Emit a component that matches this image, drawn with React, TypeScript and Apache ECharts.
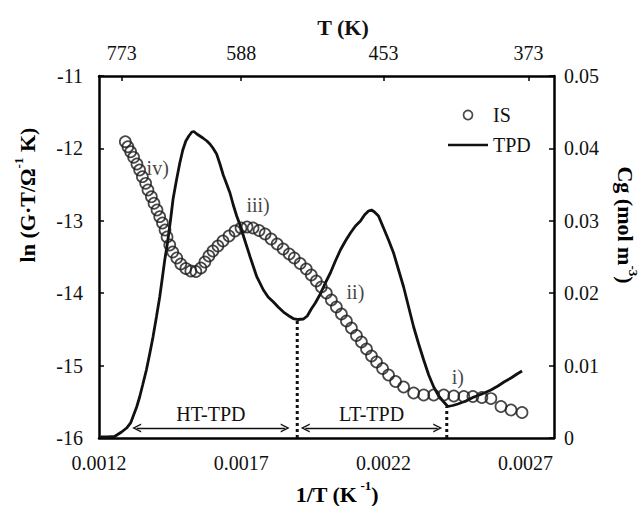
import React, { useEffect, useRef } from 'react';
import * as echarts from 'echarts';

const FONT = "'Liberation Serif', 'Times New Roman', Times, serif";

// Axis ranges
const X_MIN = 0.0012;
const X_MAX = 0.0028;
const LN_MIN = -16;
const LN_MAX = -11;
const CG_MIN = 0;
const CG_MAX = 0.05;

// Tick labels
const BOTTOM_TICKS = [0.0012, 0.0017, 0.0022, 0.0027];
const TOP_TICK_POS = [0.00128, 0.0017, 0.0022, 0.00271];
const TOP_TICK_LABELS = ['773', '588', '453', '373'];

// IS (impedance spectroscopy) : x = 1/T (K^-1), y = ln(G·T)
const IS_X = [
  0.0012925, 0.0013016, 0.0013112, 0.0013218, 0.0013334, 0.0013429, 0.0013525, 0.0013641, 0.0013722, 0.0013842,
  0.0013934, 0.001404, 0.0014135, 0.0014231, 0.0014322, 0.0014393, 0.0014488, 0.0014594, 0.0014735, 0.0014876,
  0.0015053, 0.0015229, 0.0015406, 0.0015582, 0.0015724, 0.0015865, 0.0016006, 0.0016182, 0.0016359, 0.0016571,
  0.0016782, 0.0016994, 0.0017206, 0.0017418, 0.0017629, 0.0017841, 0.0018053, 0.0018265, 0.0018476, 0.0018688,
  0.0018865, 0.0019076, 0.0019288, 0.0019465, 0.0019641, 0.0019818, 0.0019994, 0.0020171, 0.0020347, 0.0020524,
  0.00207, 0.0020876, 0.0021053, 0.0021229, 0.0021406, 0.0021582, 0.0021759, 0.0021971, 0.0022182, 0.0022429,
  0.0022712, 0.0023065, 0.0023418, 0.0023771, 0.0024124, 0.0024476, 0.0024829, 0.0025147, 0.0025465, 0.0025782,
  0.0026135, 0.0026488, 0.0026876,
];
const IS_LN = [
  -11.907, -11.977, -12.046, -12.123, -12.215, -12.298, -12.391, -12.482, -12.575, -12.667,
  -12.758, -12.851, -12.943, -13.03, -13.127, -13.224, -13.334, -13.431, -13.514, -13.597,
  -13.659, -13.693, -13.7, -13.652, -13.569, -13.486, -13.417, -13.348, -13.279, -13.21,
  -13.141, -13.099, -13.086, -13.099, -13.134, -13.182, -13.251, -13.32, -13.39, -13.459,
  -13.514, -13.59, -13.666, -13.749, -13.831, -13.914, -13.997, -14.094, -14.191, -14.287,
  -14.384, -14.481, -14.584, -14.674, -14.771, -14.867, -14.95, -15.04, -15.13, -15.22,
  -15.296, -15.378, -15.406, -15.406, -15.406, -15.42, -15.427, -15.427, -15.441, -15.455,
  -15.565, -15.613, -15.648,
];

// TPD : x = 1/T (K^-1), y = Cg (mol m^-3)
const TPD_X = [
  0.0012053, 0.00123, 0.0012547, 0.0012794, 0.0012971, 0.0013112, 0.0013218, 0.0013324, 0.0013429, 0.0013535,
  0.0013666, 0.0013782, 0.0013899, 0.0014019, 0.0014135, 0.0014241, 0.0014312, 0.0014418, 0.0014524, 0.0014605,
  0.0014725, 0.0014841, 0.0014947, 0.0015053, 0.0015159, 0.0015265, 0.0015335, 0.0015441, 0.0015547, 0.0015653,
  0.0015794, 0.00159, 0.0016006, 0.0016136, 0.0016253, 0.0016369, 0.0016489, 0.0016606, 0.0016722, 0.0016842,
  0.0016959, 0.0017135, 0.0017312, 0.0017548, 0.0017781, 0.0017947, 0.0018134, 0.00183, 0.0018487, 0.0018653,
  0.0018829, 0.0019006, 0.0019182, 0.0019324, 0.0019465, 0.0019606, 0.0019782, 0.0019959, 0.0020135, 0.0020312,
  0.0020488, 0.0020665, 0.0020841, 0.0021018, 0.0021194, 0.0021335, 0.0021476, 0.0021582, 0.0021688, 0.0021829,
  0.0022006, 0.0022182, 0.0022359, 0.0022535, 0.0022712, 0.0022888, 0.0023065, 0.0023241, 0.0023418, 0.0023594,
  0.0023771, 0.0023947, 0.0024124, 0.0024265, 0.0024441, 0.0024618, 0.00249, 0.0025182, 0.0025465, 0.0025782,
  0.0026029, 0.0026241, 0.0026488, 0.00267, 0.0026876,
];
const TPD_CG = [
  0.000138, 0.000138, 0.000207, 0.000829, 0.001381, 0.002072, 0.003177, 0.004282, 0.005663, 0.00732,
  0.009392, 0.011602, 0.01395, 0.016713, 0.019475, 0.022514, 0.024586, 0.02721, 0.030387, 0.033011,
  0.035635, 0.037983, 0.039779, 0.041022, 0.041713, 0.042265, 0.042334, 0.041989, 0.041713, 0.041436,
  0.041022, 0.040608, 0.040055, 0.039227, 0.037845, 0.036326, 0.035083, 0.03384, 0.032182, 0.030663,
  0.02942, 0.02721, 0.025041, 0.022279, 0.020442, 0.019475, 0.018785, 0.018094, 0.017403, 0.01692,
  0.016505, 0.016367, 0.016436, 0.016851, 0.017818, 0.018646, 0.019889, 0.021409, 0.02279, 0.024447,
  0.025967, 0.02721, 0.028315, 0.029282, 0.029972, 0.030801, 0.031353, 0.031492, 0.031215, 0.030663,
  0.029006, 0.027348, 0.025552, 0.023204, 0.020856, 0.018094, 0.015331, 0.012983, 0.010773, 0.008702,
  0.007044, 0.005801, 0.004972, 0.004351, 0.004489, 0.004696, 0.00511, 0.005663, 0.006077, 0.00663,
  0.007182, 0.007735, 0.008287, 0.00884, 0.009254,
];

// Stage annotations (in 1/T, ln units)
const STAGE_LABELS = ['i)', 'ii)', 'iii)', 'iv)'];
const STAGE_X = [0.0024618, 0.0021018, 0.0017594, 0.0014065];
const STAGE_LN = [-15.16, -13.98, -12.78, -12.27];

// Desorption ranges (double arrows, in 1/T and Cg units)
const RANGE_NAMES = ['HT-TPD', 'LT-TPD'];
const RANGE_FROM = [0.0013324, 0.0019253];
const RANGE_TO = [0.0018547, 0.0023912];
const RANGE_CG = 0.00138;

// Dotted boundaries at TPD minima
const BOUNDARY_X = [0.0018971, 0.0024229];
const BOUNDARY_CG = [0.01637, 0.00435];

const CHEVRON = 'path://M0,10 L5,0 L10,10 L8.4,10 L5,3.2 L1.6,10 Z';
const LINE_ICON = 'path://M0,0 L40,0 L40,2.6 L0,2.6 Z';

export default function App() {
  const ref = useRef<HTMLDivElement>(null);

  useEffect(() => {
    if (!ref.current) return;
    const chart = echarts.init(ref.current, undefined, { renderer: 'svg' });

    const tickLabel = { fontFamily: FONT, fontSize: 20, color: '#111' };
    const axisLine = { show: true, onZero: false, lineStyle: { color: '#000', width: 2.5 } };
    const innerTick = { show: true, inside: true, length: 5, lineStyle: { color: '#000', width: 1.5 } };

    const nearestTopLabel = (v: number) => {
      let best = 0;
      for (let i = 1; i < TOP_TICK_POS.length; i++) {
        if (Math.abs(TOP_TICK_POS[i] - v) < Math.abs(TOP_TICK_POS[best] - v)) best = i;
      }
      return TOP_TICK_LABELS[best];
    };

    const titleRich = {
      b: { fontFamily: FONT, fontSize: 22, fontWeight: 'bold', color: '#111', lineHeight: 30 },
      s: { fontFamily: FONT, fontSize: 13, fontWeight: 'bold', color: '#111', verticalAlign: 'top', lineHeight: 16 },
    };

    const boundarySeries = BOUNDARY_X.map((x, i) => ({
      type: 'line',
      name: 'boundary' + i,
      xAxisIndex: 0,
      yAxisIndex: 1,
      data: [
        [x, CG_MIN],
        [x, BOUNDARY_CG[i]],
      ],
      symbol: 'none',
      silent: true,
      lineStyle: { color: '#111', width: 3, type: [3, 3] },
      z: 2,
    }));

    const option: any = {
      animation: false,
      backgroundColor: '#fff',
      grid: { left: 99, right: 89, top: 76, bottom: 68, containLabel: false },
      legend: {
        orient: 'vertical',
        left: 443,
        top: 100,
        itemWidth: 40,
        itemHeight: 9,
        itemGap: 10,
        textStyle: { fontFamily: FONT, fontSize: 20, color: '#111' },
        data: [
          {
            name: 'IS',
            icon: 'circle',
            itemStyle: { color: 'rgba(255,255,255,0)', borderColor: '#1a1a1a', borderWidth: 1.7 },
          },
          { name: 'TPD', icon: LINE_ICON, itemStyle: { color: '#111', borderWidth: 0 } },
        ],
      },
      xAxis: [
        {
          type: 'value',
          position: 'bottom',
          min: X_MIN,
          max: X_MAX,
          axisLine,
          axisTick: { show: false },
          splitLine: { show: false },
          axisLabel: {
            ...tickLabel,
            margin: 15,
            customValues: BOTTOM_TICKS,
            formatter: (v: number) => v.toFixed(4),
          },
        },
        {
          type: 'value',
          position: 'top',
          min: X_MIN,
          max: X_MAX,
          axisLine,
          axisTick: { ...innerTick, customValues: TOP_TICK_POS },
          splitLine: { show: false },
          axisLabel: {
            ...tickLabel,
            margin: 13,
            customValues: TOP_TICK_POS,
            formatter: (v: number) => nearestTopLabel(v),
          },
        },
      ],
      yAxis: [
        {
          type: 'value',
          position: 'left',
          min: LN_MIN,
          max: LN_MAX,
          interval: 1,
          axisLine,
          axisTick: innerTick,
          splitLine: { show: false },
          axisLabel: { ...tickLabel, margin: 16 },
        },
        {
          type: 'value',
          position: 'right',
          min: CG_MIN,
          max: CG_MAX,
          interval: 0.01,
          axisLine,
          axisTick: innerTick,
          splitLine: { show: false },
          axisLabel: { ...tickLabel, margin: 10 },
        },
      ],
      graphic: [
        {
          type: 'text',
          x: 343,
          y: 27,
          style: {
            text: 'T (K)',
            fontFamily: FONT,
            fontSize: 22,
            fontWeight: 'bold',
            fill: '#111',
            align: 'center',
            verticalAlign: 'middle',
          },
        },
        {
          type: 'text',
          x: 337,
          y: 494,
          style: {
            text: '{b|1/T (K}{s| -1}{b|)}',
            rich: titleRich,
            align: 'center',
            verticalAlign: 'middle',
          },
        },
        {
          type: 'text',
          x: 27,
          y: 195,
          rotation: Math.PI / 2,
          style: {
            text: '{b|ln (G·T/Ω}{s|-1}{b| K)}',
            rich: titleRich,
            align: 'center',
            verticalAlign: 'middle',
          },
        },
        {
          type: 'text',
          x: 625,
          y: 225,
          rotation: -Math.PI / 2,
          style: {
            text: '{b|Cg (mol m}{s|-3}{b|)}',
            rich: titleRich,
            align: 'center',
            verticalAlign: 'middle',
          },
        },
      ],
      series: [
        {
          type: 'line',
          name: 'TPD',
          xAxisIndex: 0,
          yAxisIndex: 1,
          data: TPD_X.map((x, i) => [x, TPD_CG[i]]),
          symbol: 'none',
          showSymbol: false,
          lineStyle: { color: '#111', width: 2.8 },
          itemStyle: { color: '#111' },
          z: 3,
          markLine: {
            silent: true,
            symbol: [CHEVRON, CHEVRON],
            symbolSize: 9,
            lineStyle: { color: '#111', width: 1.3, type: 'solid' },
            label: {
              show: true,
              position: 'insideMiddleTop',
              distance: 4,
              formatter: (p: any) => p.name,
              fontFamily: FONT,
              fontSize: 20,
              color: '#111',
            },
            emphasis: { disabled: true },
            data: RANGE_NAMES.map((name, i) => [
              { coord: [RANGE_FROM[i], RANGE_CG], name },
              { coord: [RANGE_TO[i], RANGE_CG] },
            ]),
          },
        },
        ...boundarySeries,
        {
          type: 'scatter',
          name: 'IS',
          xAxisIndex: 0,
          yAxisIndex: 0,
          data: IS_X.map((x, i) => [x, IS_LN[i]]),
          symbol: 'circle',
          symbolSize: 11,
          itemStyle: { color: 'rgba(255,255,255,0)', borderColor: '#1a1a1a', borderWidth: 1.7 },
          z: 4,
        },
        {
          type: 'scatter',
          name: 'stages',
          xAxisIndex: 0,
          yAxisIndex: 0,
          silent: true,
          symbolSize: 1,
          itemStyle: { color: 'rgba(0,0,0,0)' },
          data: STAGE_LABELS.map((name, i) => ({ name, value: [STAGE_X[i], STAGE_LN[i]] })),
          label: {
            show: true,
            position: 'inside',
            formatter: (p: any) => p.name,
            fontFamily: FONT,
            fontSize: 20,
            color: '#111',
          },
          z: 5,
        },
      ],
    };

    chart.setOption(option);
    return () => chart.dispose();
  }, []);

  return (
    <div
      ref={ref}
      style={{ position: 'fixed', left: 0, top: 0, width: 643, height: 506, background: '#fff' }}
    />
  );
}
